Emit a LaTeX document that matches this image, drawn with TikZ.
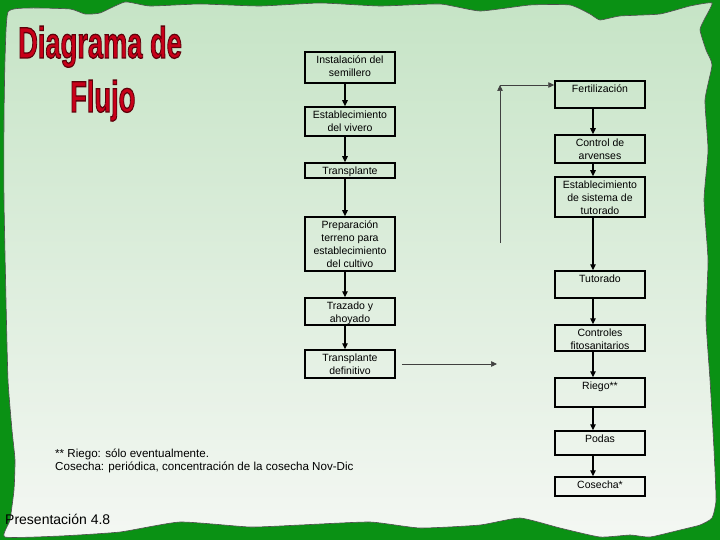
\documentclass[tikz,border=0pt]{standalone}
\usepackage{fontspec}
\setmainfont{Liberation Sans}
\usetikzlibrary{arrows.meta}
\definecolor{titlered}{RGB}{200,0,25}
\definecolor{titledark}{RGB}{95,0,10}
\definecolor{gdark}{RGB}{10,145,20}
\definecolor{glight}{RGB}{140,200,140}
\definecolor{ptop}{RGB}{198,228,198}
\definecolor{pbot}{RGB}{244,247,243}
\newcommand\bxt[2]{\parbox[c][#1pt][t]{90pt}{\centering\vspace*{3.5pt}#2\par}}
\newcommand\outlinedtitle[1]{{\color{titlered}\special{pdf:code 2 Tr 1.3 w 0.37 0 0.04 RG}#1\special{pdf:code 0 Tr}}}
\tikzset{
  box/.style={draw, line width=1.5pt, inner sep=0pt, font=\fontsize{10.5}{13}\selectfont},
  arr/.style={-{Triangle[length=6pt,width=5.5pt]}, line width=1.1pt},
  thinarr/.style={-{Triangle[length=6pt,width=5.5pt]}, line width=0.7pt, draw=black!75},
  titlefont/.style={font=\fontsize{44}{44}\bfseries\selectfont, inner sep=0pt},
  note/.style={font=\fontsize{11.6}{13}\selectfont, inner sep=0pt},
  pres/.style={font=\fontsize{14}{16}\selectfont, inner sep=0pt}
}
\begin{document}
\begin{tikzpicture}[x=1pt,y=-1pt]
\useasboundingbox (0,0) rectangle (720,540);
% background frame
\fill[gdark] (0,0) rectangle (720,540);
\shade[top color=gdark, middle color=glight, bottom color=gdark] (0,30) rectangle (22,430);
\shade[top color=gdark, middle color=glight, bottom color=gdark] (698,80) rectangle (720,480);
% panel
\shadedraw[top color=ptop, bottom color=pbot, draw=black!70, line width=0.6pt]
  plot[smooth cycle, tension=0.3] coordinates {
   (8,12) (30,8) (70,9) (85,14) (100,13) (125,2) (150,6) (200,4) (260,6) (320,3)
   (380,6) (440,4) (480,11) (530,5) (570,5) (590,14) (600,20) (620,16) (660,14)
   (690,6) (712,3) (704,20) (700,30) (706,50) (712,65) (705,100) (708,150)
   (704,200) (708,260) (706,320) (710,380) (714,450) (716,500) (712,518)
   (700,525) (680,530) (650,537) (630,535) (600,537) (560,528) (520,518)
   (480,525) (420,528) (370,522) (300,525) (250,527) (180,522) (120,532)
   (60,536) (5,537) (10,520) (14,490) (15,460) (12,430) (8,380) (6,300)
   (4,200) (4,120) (5,60)};
% title
\node[titlefont, anchor=base west] (t1) at (18,58) {\outlinedtitle{\scalebox{0.62}[1]{Diagrama de}}};
\node[titlefont, anchor=base west] (t2) at (70,112) {\outlinedtitle{\scalebox{0.62}[1]{Flujo}}};
% left column
\node[box] (ins)  at (350,67.5) {\bxt{31}{Instalación del\\semillero}};
\node[box] (viv)  at (350,121.5) {\bxt{29}{Establecimiento\\del vivero}};
\node[box] (tra)  at (350,170.5) {\bxt{15}{Transplante}};
\node[box] (prep) at (350,244) {\bxt{54}{Preparación\\terreno para\\establecimiento\\del cultivo}};
\node[box] (traz) at (350,311.5) {\bxt{27}{Trazado y\\ahoyado}};
\node[box] (tdef) at (350,364) {\bxt{28}{Transplante\\definitivo}};
% right column
\node[box] (fert)  at (600,94.5) {\bxt{27}{Fertilización}};
\node[box] (arv)   at (600,149) {\bxt{28}{Control de\\arvenses}};
\node[box] (sist)  at (600,197) {\bxt{40}{Establecimiento\\de sistema de\\tutorado}};
\node[box] (tut)   at (600,284.5) {\bxt{27}{Tutorado}};
\node[box] (fito)  at (600,338) {\bxt{26}{Controles\\fitosanitarios}};
\node[box] (riego) at (600,392.5) {\bxt{29}{Riego**}};
\node[box] (podas) at (600,443) {\bxt{24}{Podas}};
\node[box] (cos)   at (600,486.5) {\bxt{19}{Cosecha*}};
% arrows
\coordinate (axL) at (345,0);
\coordinate (axR) at (593,0);
\draw[arr] (ins.south -| axL) -- (viv.north -| axL);
\draw[arr] (viv.south -| axL) -- (tra.north -| axL);
\draw[arr] (tra.south -| axL) -- (prep.north -| axL);
\draw[arr] (prep.south -| axL) -- (traz.north -| axL);
\draw[arr] (traz.south -| axL) -- (tdef.north -| axL);
\draw[arr] (fert.south -| axR) -- (arv.north -| axR);
\draw[arr] (arv.south -| axR) -- (sist.north -| axR);
\draw[arr] (sist.south -| axR) -- (tut.north -| axR);
\draw[arr] (tut.south -| axR) -- (fito.north -| axR);
\draw[arr] (fito.south -| axR) -- (riego.north -| axR);
\draw[arr] (riego.south -| axR) -- (podas.north -| axR);
\draw[arr] (podas.south -| axR) -- (cos.north -| axR);
% loop connector
\coordinate (lpEnd) at (497,364);
\coordinate (lpBot) at (500,243);
\coordinate (lpTop) at (500,85);
\draw[thinarr, shorten <=6pt] (tdef.east) -- (lpEnd);
\draw[thinarr] (lpBot) -- (lpTop);
\draw[thinarr] (lpTop) -- (fert.west |- lpTop);
% notes
\node[note, anchor=base west] (n1) at (55,457) {** Riego: sólo eventualmente.};
\node[note, anchor=base west] (n2) at (55,470) {Cosecha: periódica, concentración de la cosecha Nov-Dic};
\node[pres, anchor=base west] (pr) at (5,524) {Presentación 4.8};
\end{tikzpicture}
\end{document}
